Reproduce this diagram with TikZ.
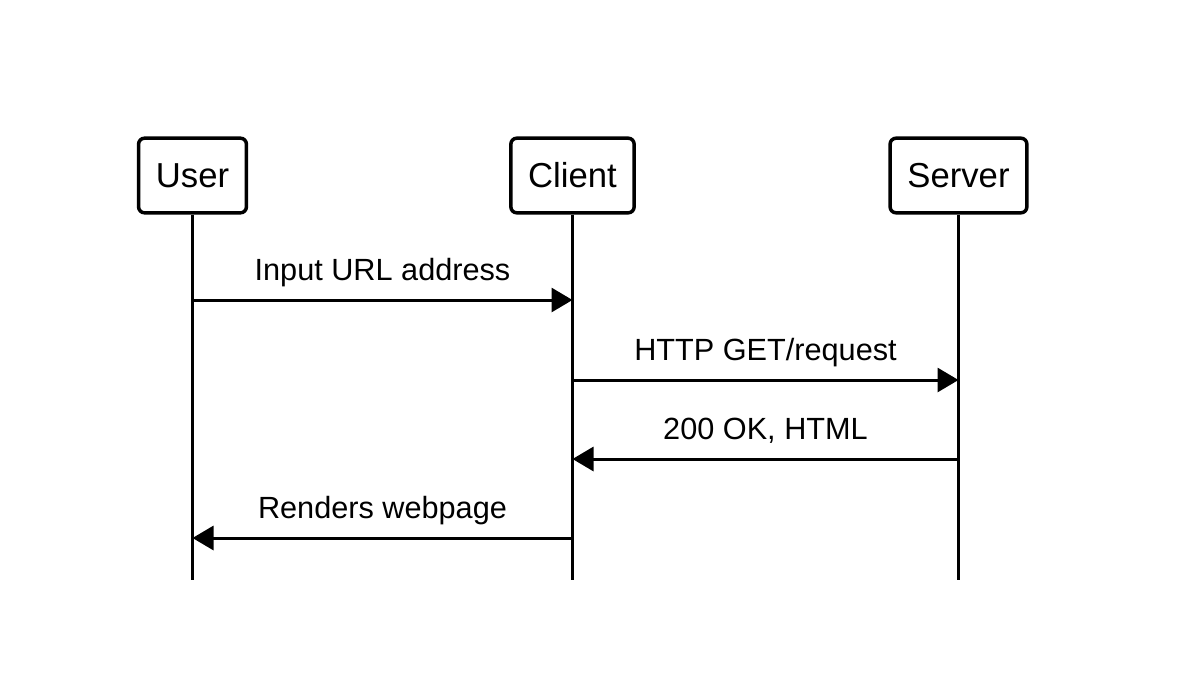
\documentclass[tikz,border=0pt]{standalone}
\usepackage{fontspec}
\setmainfont{Liberation Sans}
\usetikzlibrary{arrows.meta}
\tikzset{
    actor/.style = {draw,line width = 2.6pt,rounded corners = 4.5pt,minimum height = 56pt,inner xsep = 13pt,font = \fontsize{26}{31}\selectfont},
    lifeline/.style = {line width = 2.25pt},
    msg/.style = {line width = 2.25pt,-{Triangle[length = 15.75pt,width = 18pt]}},
    msglabel/.style = {anchor = base,font = \fontsize{23}{28}\selectfont}
}
\begin{document}
\begin{tikzpicture}[x = 0.75pt,y = -0.75pt]
    \useasboundingbox (0,0) rectangle (1204,672);
    \node[actor] (user) at (192.5,175.5) {User};
    \node[actor] (client) at (572.5,175.5) {Client};
    \node[actor] (server) at (958.5,175.5) {Server};
    \coordinate (userend) at (192.5,580);
    \coordinate (clientend) at (572.5,580);
    \coordinate (serverend) at (958.5,580);
    \draw[lifeline] (user) -- (userend);
    \draw[lifeline] (client) -- (clientend);
    \draw[lifeline] (server) -- (serverend);
    \coordinate (u1) at (192.5,300);   \coordinate (c1) at (572.5,300);
    \coordinate (c2) at (572.5,380);   \coordinate (s2) at (958.5,380);
    \coordinate (s3) at (958.5,459);   \coordinate (c3) at (572.5,459);
    \coordinate (c4) at (572.5,538);   \coordinate (u4) at (192.5,538);
    \draw[msg] (u1) -- (c1) node[msglabel,pos = 0.5,yshift = 15pt] {Input URL address};
    \draw[msg] (c2) -- (s2) node[msglabel,pos = 0.5,yshift = 15pt] {HTTP GET/request};
    \draw[msg] (s3) -- (c3) node[msglabel,pos = 0.5,yshift = 15pt] {200 OK, HTML};
    \draw[msg] (c4) -- (u4) node[msglabel,pos = 0.5,yshift = 15pt] {Renders webpage};
\end{tikzpicture}
\end{document}
